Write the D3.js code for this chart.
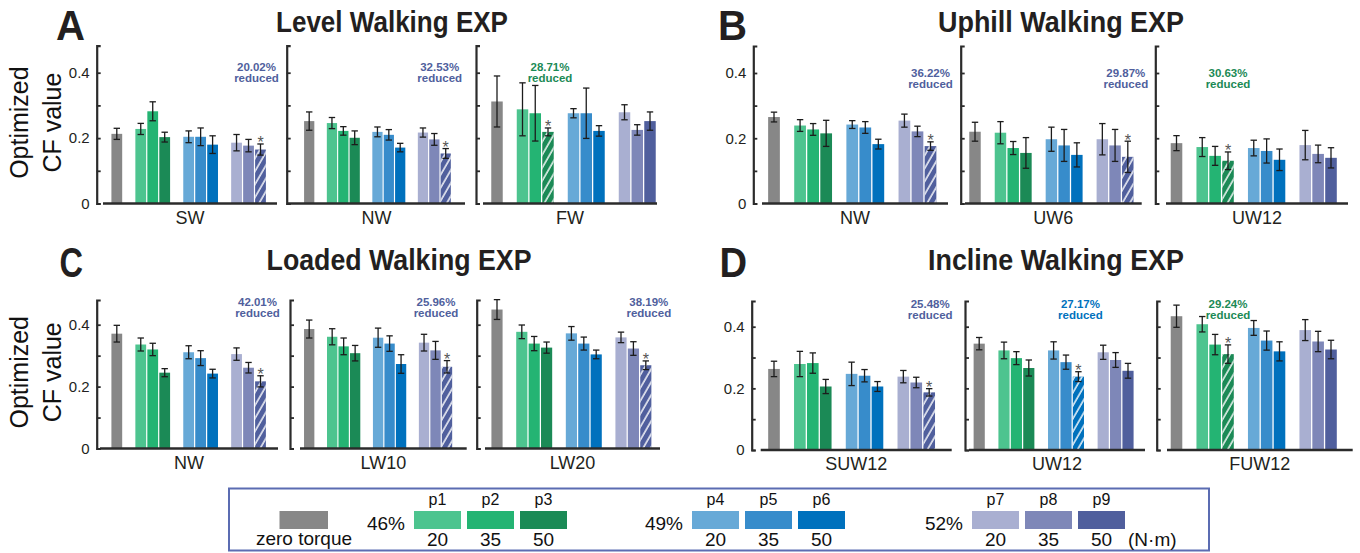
<!DOCTYPE html>
<html><head><meta charset="utf-8">
<script src="https://cdn.jsdelivr.net/npm/d3@7"></script>
<style>
body{margin:0;background:#fff}
svg{display:block}
text{font-family:"Liberation Sans",Arial,sans-serif}
</style>
</head><body>
<svg id="chart" width="1360" height="553"></svg>
<script>
// ---------------- DATA ----------------
const seriesNames = ["zero torque","p1","p2","p3","p4","p5","p6","p7","p8","p9"];
const panelLetters = ["A","B","C","D"];
const panelTitles = ["Level Walking EXP","Uphill Walking EXP","Loaded Walking EXP","Incline Walking EXP"];
const conditionsLevel = ["SW","NW","FW"];
const conditionsUphill = ["NW","UW6","UW12"];
const conditionsLoaded = ["NW","LW10","LW20"];
const conditionsIncline = ["SUW12","UW12","FUW12"];

const meanLevel = [
  [0.213,0.228,0.282,0.203,0.204,0.204,0.180,0.186,0.177,0.165],
  [0.252,0.246,0.222,0.201,0.219,0.210,0.171,0.217,0.196,0.153],
  [0.312,0.288,0.276,0.219,0.276,0.276,0.222,0.279,0.225,0.252]
];
const errLevel = [
  [0.017,0.017,0.029,0.015,0.018,0.027,0.027,0.025,0.019,0.017],
  [0.028,0.017,0.013,0.021,0.015,0.016,0.013,0.014,0.018,0.015],
  [0.078,0.081,0.085,0.012,0.014,0.077,0.016,0.023,0.016,0.028]
];
const meanUphill = [
  [0.265,0.239,0.227,0.215,0.242,0.233,0.182,0.254,0.221,0.176],
  [0.220,0.217,0.170,0.155,0.197,0.178,0.149,0.197,0.178,0.143],
  [0.185,0.173,0.146,0.131,0.170,0.161,0.134,0.179,0.152,0.140]
];
const errUphill = [
  [0.015,0.018,0.018,0.040,0.012,0.018,0.015,0.020,0.016,0.013],
  [0.029,0.034,0.020,0.047,0.037,0.049,0.037,0.048,0.049,0.048],
  [0.023,0.029,0.029,0.027,0.024,0.037,0.033,0.045,0.027,0.031]
];
const meanLoaded = [
  [0.371,0.336,0.320,0.245,0.311,0.292,0.242,0.305,0.261,0.217],
  [0.386,0.361,0.330,0.308,0.358,0.339,0.273,0.342,0.317,0.264],
  [0.449,0.377,0.339,0.326,0.372,0.339,0.304,0.359,0.323,0.269]
];
const errLoaded = [
  [0.027,0.021,0.020,0.013,0.021,0.024,0.014,0.020,0.017,0.018],
  [0.029,0.026,0.027,0.025,0.031,0.025,0.030,0.027,0.029,0.020],
  [0.032,0.022,0.023,0.018,0.022,0.021,0.014,0.017,0.022,0.014]
];
const meanIncline = [
  [0.263,0.279,0.282,0.206,0.247,0.241,0.206,0.238,0.219,0.187],
  [0.345,0.323,0.298,0.266,0.323,0.285,0.238,0.317,0.292,0.257],
  [0.434,0.408,0.342,0.311,0.396,0.355,0.320,0.389,0.352,0.326]
];
const errIncline = [
  [0.025,0.041,0.033,0.023,0.038,0.020,0.016,0.020,0.017,0.012],
  [0.020,0.027,0.021,0.026,0.028,0.023,0.016,0.023,0.024,0.024],
  [0.036,0.025,0.033,0.030,0.024,0.031,0.031,0.034,0.033,0.030]
];
// index of the significant (hatched, starred) series in each sub-panel
const significantLevel = [9,9,3];
const significantUphill = [9,9,3];
const significantLoaded = [9,9,9];
const significantIncline = [9,6,3];
const reductionLevel = ["20.02%","32.53%","28.71%"];
const reductionUphill = ["36.22%","29.87%","30.63%"];
const reductionLoaded = ["42.01%","25.96%","38.19%"];
const reductionIncline = ["25.48%","27.17%","29.24%"];

const yTicks = [0,0.1,0.2,0.3,0.4];
const yTickLabels = ["0","","0.2","","0.4"];
const legendPercents = ["46%","49%","52%"];
const legendTorques = ["20","35","50"];
const legendUnit = "(N·m)";
const yLabelLines = ["Optimized","CF value"];

// ---------------- STYLE / LAYOUT ----------------
const colors = ["#878787","#4dc48f","#24b473","#1b8a56","#67a9d7","#378ccb","#0071bd","#a9afd1","#7e87b8","#505f9d"];
const slotKeys = ["zero torque","g1","p1","p2","p3","g2","p4","p5","p6","g3","p7","p8","p9"];

const rowLayout = [
  {y0:203.5, y4:72.7, top:45.7, anno:71, letterX:[56,85], letterY:40, titleY:32},
  {y0:203.5, y4:73,   top:46,   anno:76.5, letterX:[718,747], letterY:40, titleY:32},
  {y0:448.5, y4:324.7,top:300,  anno:306, letterX:[59.5,83], letterY:277, titleY:270},
  {y0:450,   y4:326.7,top:301,  anno:307.5, letterX:[719.6,747.2], letterY:277, titleY:270}
];
const titleBox = [[276,508],[938,1184],[266.6,531.5],[928,1184]];
const subLayout = [
  [{axis:96.7,first:116.8,last:260.5,b0:103,b1:277,dx:-4},{axis:286.7,first:309.2,last:445.7,b0:288,b1:465,dx:-6},{axis:476,first:497,last:650,b0:483,b1:657,dx:2}],
  [{axis:753.3,first:774,last:930.5,b0:762,b1:948,dx:0},{axis:960.7,first:975,last:1127.8,b0:965,b1:1141.7,dx:-2},{axis:1155.3,first:1176.5,last:1331,b0:1166,b1:1348,dx:0}],
  [{axis:96.7,first:116.8,last:260.5,b0:100,b1:278,dx:-3},{axis:290,first:309.2,last:447,b0:300,b1:466.7,dx:-11},{axis:476.7,first:497,last:645.8,b0:485,b1:660,dx:3}],
  [{axis:751.7,first:774,last:929.2,b0:760.7,b1:951.7,dx:1},{axis:965,first:979.2,last:1128,b0:969,b1:1145,dx:2},{axis:1156.7,first:1176.5,last:1331,b0:1167,b1:1352.7,dx:0}]
];

const panels = [
  {cond:conditionsLevel, mean:meanLevel, err:errLevel, sig:significantLevel, red:reductionLevel},
  {cond:conditionsUphill, mean:meanUphill, err:errUphill, sig:significantUphill, red:reductionUphill},
  {cond:conditionsLoaded, mean:meanLoaded, err:errLoaded, sig:significantLoaded, red:reductionLoaded},
  {cond:conditionsIncline, mean:meanIncline, err:errIncline, sig:significantIncline, red:reductionIncline}
];

const svg = d3.select("#chart");
const defs = svg.append("defs");
const pat = defs.append("pattern").attr("id","hatch").attr("patternUnits","userSpaceOnUse")
  .attr("width",6.5).attr("height",6.5).attr("patternTransform","rotate(30)");
pat.append("line").attr("x1",1).attr("y1",0).attr("x2",1).attr("y2",6.5)
  .attr("stroke","#fff").attr("stroke-width",1.4);

const axisColor = "#2b2b2b";

panels.forEach((P, r) => {
  const L = rowLayout[r];
  const y = d3.scaleLinear().domain([0,0.4]).range([L.y0, L.y4]);
  const topVal = y.invert(L.top);
  y.domain([0, topVal]).range([L.y0, L.top]);

  // letter & title
  svg.append("text").attr("x",L.letterX[0]).attr("y",L.letterY)
    .attr("font-size",42).attr("font-weight","bold").attr("fill","#231f20")
    .attr("textLength",L.letterX[1]-L.letterX[0]).attr("lengthAdjust","spacingAndGlyphs")
    .text(panelLetters[r]);
  svg.append("text").attr("x",titleBox[r][0]).attr("y",L.titleY)
    .attr("font-size",29).attr("font-weight","bold").attr("fill","#231f20")
    .attr("textLength",titleBox[r][1]-titleBox[r][0]).attr("lengthAdjust","spacingAndGlyphs")
    .text(panelTitles[r]);

  // y label for left panels
  if (r === 0 || r === 2) {
    const cy = (L.y0 + L.top)/2 - 2;
    yLabelLines.forEach((t,i) => {
      svg.append("text").attr("transform",`translate(${i===0?28:61},${cy}) rotate(-90)`)
        .attr("text-anchor","middle").attr("font-size",25).attr("fill","#111").text(t);
    });
  }

  P.cond.forEach((cname, s) => {
    const S = subLayout[r][s];
    const slot = (S.last - S.first)/12;
    const x = d3.scaleBand().domain(slotKeys).range([S.first - slot/2, S.last + slot/2])
      .paddingInner(0.1).paddingOuter(0.05);
    const g = svg.append("g");
    const data = seriesNames.map((n,i) => ({n, i, v:P.mean[s][i], e:P.err[s][i], hatched: i===P.sig[s]}));

    g.selectAll("rect.bar").data(data).join("rect").attr("class","bar")
      .attr("x",d=>x(d.n)).attr("width",x.bandwidth())
      .attr("y",d=>y(d.v)).attr("height",d=>y(0)-y(d.v))
      .attr("fill",d=>colors[d.i]);
    g.selectAll("rect.hatch").data(data.filter(d=>d.hatched)).join("rect").attr("class","hatch")
      .attr("x",d=>x(d.n)).attr("width",x.bandwidth())
      .attr("y",d=>y(d.v)).attr("height",d=>y(0)-y(d.v))
      .attr("fill","url(#hatch)");

    // error bars
    const eb = g.selectAll("g.err").data(data).join("g").attr("class","err")
      .attr("stroke","#1c1c1c").attr("stroke-width",1.3);
    const cx = d => x(d.n) + x.bandwidth()/2;
    eb.append("line").attr("x1",cx).attr("x2",cx).attr("y1",d=>y(d.v-d.e)).attr("y2",d=>y(d.v+d.e));
    eb.append("line").attr("x1",d=>cx(d)-3.2).attr("x2",d=>cx(d)+3.2).attr("y1",d=>y(d.v+d.e)).attr("y2",d=>y(d.v+d.e));
    eb.append("line").attr("x1",d=>cx(d)-3.2).attr("x2",d=>cx(d)+3.2).attr("y1",d=>y(d.v-d.e)).attr("y2",d=>y(d.v-d.e));

    // asterisk
    const sd = data[P.sig[s]];
    g.append("text").attr("x",cx(sd)).attr("y",y(sd.v+sd.e)+4.5).attr("text-anchor","middle")
      .attr("font-size",16).attr("fill","#555").text("*");

    // annotation
    const ax = cx(sd) + S.dx;
    const at = g.append("text").attr("text-anchor","middle").attr("font-size",11.5)
      .attr("font-weight","bold").attr("fill",colors[P.sig[s]]);
    at.append("tspan").attr("x",ax).attr("y",L.anno).text(P.red[s]);
    at.append("tspan").attr("x",ax).attr("y",L.anno+11).text("reduced");

    // y axis
    const axis = d3.axisLeft(y).tickValues(yTicks).tickSizeInner(-4).tickSizeOuter(-4).tickPadding(7)
      .tickFormat((d,i) => s===0 ? yTickLabels[i] : "");
    const ag = svg.append("g").attr("transform",`translate(${S.axis},0)`).call(axis);
    ag.select(".domain").attr("stroke",axisColor).attr("stroke-width",2.2);
    ag.selectAll(".tick line").attr("stroke",axisColor).attr("stroke-width",1.8);
    ag.selectAll(".tick text").attr("font-size",15).attr("fill","#231f20")
      .attr("font-family","Liberation Sans, Arial, sans-serif");

    // baseline
    svg.append("line").attr("x1",S.b0).attr("x2",S.b1).attr("y1",y(0)).attr("y2",y(0))
      .attr("stroke",axisColor).attr("stroke-width",2.6);

    // category label
    svg.append("text").attr("x",(S.b0+S.b1)/2).attr("y",y(0)+20).attr("text-anchor","middle")
      .attr("font-size",18).attr("fill","#231f20").text(cname);
  });
});

// ---------------- LEGEND ----------------
const lg = svg.append("g");
lg.append("rect").attr("x",229).attr("y",488.5).attr("width",980).attr("height",62)
  .attr("fill","none").attr("stroke","#5b6cb2").attr("stroke-width",2);
const boxY = 511, boxH = 18, boxW = 47;
lg.append("rect").attr("x",279.5).attr("y",boxY).attr("width",48.5).attr("height",boxH).attr("fill",colors[0]);
lg.append("text").attr("x",304).attr("y",545).attr("text-anchor","middle").attr("font-size",19)
  .attr("fill","#111").text(seriesNames[0]);
const groupStart = [414, 692, 972];
legendPercents.forEach((pct, gi) => {
  lg.append("text").attr("x",groupStart[gi]-9).attr("y",530).attr("text-anchor","end")
    .attr("font-size",19).attr("fill","#111").text(pct);
  legendTorques.forEach((tq, k) => {
    const idx = 1 + gi*3 + k;
    const bx = groupStart[gi] + k*53;
    lg.append("rect").attr("x",bx).attr("y",boxY).attr("width",boxW).attr("height",boxH).attr("fill",colors[idx]);
    lg.append("text").attr("x",bx+boxW/2).attr("y",504.5).attr("text-anchor","middle")
      .attr("font-size",16).attr("fill","#111").text(seriesNames[idx]);
    lg.append("text").attr("x",bx+boxW/2).attr("y",545.5).attr("text-anchor","middle")
      .attr("font-size",19).attr("fill","#111").text(tq);
  });
});
lg.append("text").attr("x",1128).attr("y",545.5).attr("font-size",19).attr("fill","#111").text(legendUnit);
</script>
</body></html>
